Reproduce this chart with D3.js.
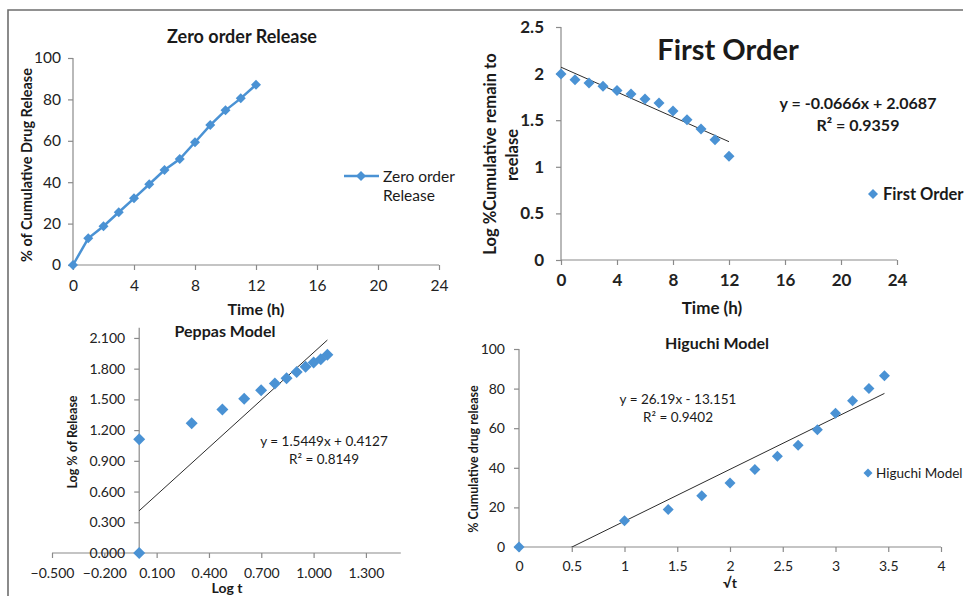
<!DOCTYPE html>
<html lang="en">
<head>
<meta charset="UTF-8">
<title>Release kinetics</title>
<script src="https://cdn.jsdelivr.net/npm/d3@7"></script>
<style>
  body { margin: 0; background: #fff; }
  svg { display: block; font-family: Lato, "Open Sans", sans-serif; }
  .tick text { fill: #222; }
</style>
</head>
<body>
<svg id="canvas" width="965" height="596"></svg>
<script>
// time points (h)
const hours = [0, 1, 2, 3, 4, 5, 6, 7, 8, 9, 10, 11, 12];
// zero order: % cumulative drug release
const zeroRelease = [0, 12.9, 18.7, 25.5, 32.2, 39.0, 45.9, 51.2, 59.3, 67.6, 74.7, 80.5, 87.1];
// first order: log % remaining
const firstOrderLog = [1.996, 1.935, 1.899, 1.863, 1.82, 1.781, 1.727, 1.685, 1.599, 1.505, 1.405, 1.291, 1.113];
const firstOrderFit = [-0.0666, 2.0687];
// peppas: log t vs log % release
const peppasLogT = [0, 0, 0.301, 0.477, 0.602, 0.699, 0.778, 0.845, 0.903, 0.954, 1.0, 1.041, 1.079];
const peppasLogRelease = [0, 1.111, 1.268, 1.402, 1.505, 1.59, 1.655, 1.706, 1.768, 1.818, 1.86, 1.893, 1.935];
const peppasFit = [1.5449, 0.4127];
// higuchi: sqrt t vs % release
const higuchiRootT = [0, 1, 1.414, 1.732, 2, 2.236, 2.449, 2.646, 2.828, 3, 3.162, 3.317, 3.464];
const higuchiRelease = [0, 13.3, 19.0, 25.9, 32.3, 39.2, 45.8, 51.4, 59.2, 67.5, 73.9, 80.0, 86.5];
const higuchiFit = [26.19, -13.151];

const blue = "#4a92d4";
const axisCol = "#8a8a8a";
const svg = d3.select("#canvas");

// frame
svg.append("path").attr("d", "M8,596V10H963")
  .attr("fill", "none").attr("stroke", "#6e6e6e").attr("stroke-width", 1.6);

const diamond = d3.symbol().type(d3.symbolSquare);

function panel(o) {
  const g = svg.append("g");
  const x = d3.scaleLinear().domain(o.xDomain).range(o.xRange);
  const y = d3.scaleLinear().domain(o.yDomain).range(o.yRange);
  const x0 = x(Math.max(0, o.xDomain[0])), y0 = y(0);

  const xa = g.append("g").attr("transform", `translate(0,${y0})`)
    .call(d3.axisBottom(x).tickValues(o.xTicks).tickSize(5).tickFormat(o.xFmt).tickPadding(o.xPad));
  const ya = g.append("g").attr("transform", `translate(${x0},0)`)
    .call(d3.axisLeft(y).tickValues(o.yTicks).tickSize(5).tickFormat(o.yFmt).tickPadding(o.yPad));
  [xa, ya].forEach(a => {
    a.select(".domain").attr("stroke", axisCol).attr("stroke-width", 1.2);
    a.selectAll(".tick line").attr("stroke", axisCol).attr("stroke-width", 1.2);
    a.selectAll(".tick text").attr("font-size", o.tickSize).attr("font-weight", o.tickWeight)
      .attr("font-family", "Lato, sans-serif");
  });
  // plain axis lines, no outer end ticks
  ya.select(".domain").attr("d", `M0,${y(o.yDomain[0])}V${y(o.yDomain[1])}`);
  xa.select(".domain").attr("d", `M${x(o.xDomain[0])},0H${x(o.xDomain[1])}`);

  const pts = o.xs.map((v, i) => [v, o.ys[i]]);

  if (o.fit) {
    const clipId = "clip" + o.id;
    g.append("clipPath").attr("id", clipId).append("rect")
      .attr("x", o.xRange[0]).attr("y", o.yRange[1])
      .attr("width", o.xRange[1] - o.xRange[0]).attr("height", o.yRange[0] - o.yRange[1]);
    const fx = d3.extent(o.xs);
    g.append("line").attr("clip-path", `url(#${clipId})`)
      .attr("x1", x(fx[0])).attr("y1", y(o.fit[0] * fx[0] + o.fit[1]))
      .attr("x2", x(fx[1])).attr("y2", y(o.fit[0] * fx[1] + o.fit[1]))
      .attr("stroke", "#2b2b2b").attr("stroke-width", 1);
  }
  if (o.line) {
    g.append("path").datum(pts)
      .attr("d", d3.line().x(d => x(d[0])).y(d => y(d[1])))
      .attr("fill", "none").attr("stroke", blue).attr("stroke-width", 2.5);
  }
  g.selectAll(".mk").data(pts).join("path").attr("class", "mk")
    .attr("d", diamond.size(o.mk * o.mk / 2))
    .attr("transform", d => `translate(${x(d[0])},${y(d[1])}) rotate(45)`)
    .attr("fill", blue);
  return g;
}

function txt(t, x, y, size, weight, anchor, rot) {
  const e = svg.append("text").text(t).attr("x", x).attr("y", y)
    .attr("font-size", size).attr("font-weight", weight || "normal")
    .attr("text-anchor", anchor || "middle").attr("dominant-baseline", "central")
    .attr("fill", "#1a1a1a");
  if (rot) e.attr("transform", `rotate(-90,${x},${y})`);
  return e;
}

// Zero order
panel({
  id: "z", xs: hours, ys: zeroRelease, line: true, mk: 10,
  xDomain: [0, 24], xRange: [73, 439], yDomain: [0, 100], yRange: [265, 58],
  xTicks: d3.range(0, 25, 4), yTicks: d3.range(0, 101, 20),
  xFmt: d3.format("d"), yFmt: d3.format("d"), xPad: 10, yPad: 7,
  tickSize: 15.5, tickWeight: "normal"
});
txt("Zero order Release", 242, 36, 18, "bold");
txt("% of Cumulative Drug Release", 26, 165, 14.5, "bold", "middle", true);
txt("Time (h)", 256, 308, 16, "bold");
svg.append("line").attr("x1", 344).attr("x2", 379).attr("y1", 176).attr("y2", 176)
  .attr("stroke", blue).attr("stroke-width", 2.5);
svg.append("path").attr("d", diamond.size(50)).attr("transform", "translate(361,176) rotate(45)").attr("fill", blue);
txt("Zero order", 383, 176, 15.5, "normal", "start");
txt("Release", 383, 195, 15.5, "normal", "start");

// First order
panel({
  id: "f", xs: hours, ys: firstOrderLog, fit: firstOrderFit, mk: 11,
  xDomain: [0, 24], xRange: [561, 897], yDomain: [0, 2.5], yRange: [260, 27],
  xTicks: d3.range(0, 25, 4), yTicks: [0, 0.5, 1, 1.5, 2, 2.5],
  xFmt: d3.format("d"), yFmt: d => String(d), xPad: 9, yPad: 12,
  tickSize: 17, tickWeight: "bold"
});
txt("First Order", 728, 48, 29, "bold");
txt("y = -0.0666x + 2.0687", 858, 102, 16, "bold");
txt("R² = 0.9359", 858, 124, 16, "bold");
txt("Log %Cumulative remain to", 490, 154, 16.5, "bold", "middle", true);
txt("reelase", 512, 155, 16.5, "bold", "middle", true);
txt("Time (h)", 712, 307, 17, "bold");
svg.append("path").attr("d", diamond.size(50)).attr("transform", "translate(873,194) rotate(45)").attr("fill", blue);
txt("First Order", 883, 194, 16.5, "bold", "start");

// Peppas
panel({
  id: "p", xs: peppasLogT, ys: peppasLogRelease, fit: peppasFit, mk: 12,
  xDomain: [-0.5, 1.5], xRange: [52, 400.8], yDomain: [0, 2.2], yRange: [553, 327.7],
  xTicks: [-0.5, -0.2, 0.1, 0.4, 0.7, 1.0, 1.3], yTicks: [0, 0.3, 0.6, 0.9, 1.2, 1.5, 1.8, 2.1],
  xFmt: d3.format(".3f"), yFmt: d3.format(".3f"), xPad: 10, yPad: 9,
  tickSize: 14, tickWeight: "normal"
});
txt("Peppas Model", 225, 330, 16, "bold");
txt("y = 1.5449x + 0.4127", 324, 441, 13.5, "normal");
txt("R² = 0.8149", 324, 459, 13.5, "normal");
txt("Log % of Release", 72, 442, 12.5, "bold", "middle", true);
txt("Log t", 227, 587, 14, "bold");

// Higuchi
panel({
  id: "h", xs: higuchiRootT, ys: higuchiRelease, fit: higuchiFit, mk: 11,
  xDomain: [0, 4], xRange: [519, 941], yDomain: [0, 100], yRange: [547, 349],
  xTicks: d3.range(0, 4.01, 0.5), yTicks: d3.range(0, 101, 20),
  xFmt: d => String(d), yFmt: d3.format("d"), xPad: 9, yPad: 9,
  tickSize: 14, tickWeight: "normal"
});
txt("Higuchi Model", 717, 342, 16, "bold");
txt("y = 26.19x - 13.151", 678, 399, 13.5, "normal");
txt("R² = 0.9402", 678, 417, 13.5, "normal");
txt("% Cumulative drug release", 473, 459, 12.5, "bold", "middle", true);
txt("√t", 730, 582, 14, "bold");
svg.append("path").attr("d", diamond.size(40)).attr("transform", "translate(868,473) rotate(45)").attr("fill", blue);
txt("Higuchi Model", 876, 473, 13.5, "normal", "start");
</script>
</body>
</html>
